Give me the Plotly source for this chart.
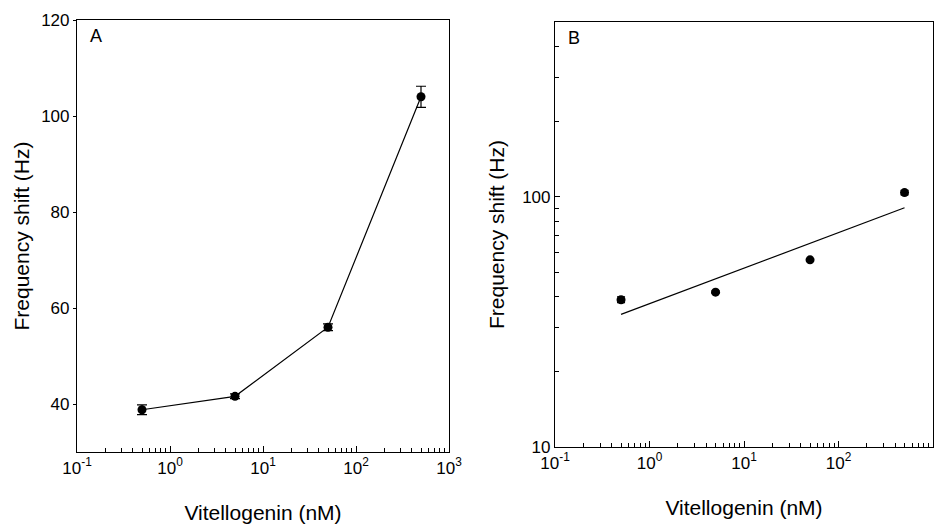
import numpy as np
import plotly.graph_objects as go

# Data
conc_nM = [0.5, 5, 50, 500]
freq_shift_hz = [38.8, 41.6, 56.0, 104.0]
freq_err_hz = [1.0, 0.5, 0.7, 2.2]
fit_conc_nM = [0.5, 500]
fit_shift_hz = [33.9, 90.4]

x_tickvals = [0.1, 1, 10, 100, 1000]
x_ticktext = ["10<sup>-1</sup>", "10<sup>0</sup>", "10<sup>1</sup>", "10<sup>2</sup>", "10<sup>3</sup>"]
x_minorvals = [m * d for d in [0.1, 1, 10, 100] for m in range(2, 10)]
yA_tickvals = [40, 60, 80, 100, 120]
yB_tickvals = [10, 100]
yB_ticktext = ["10", "100"]
yB_minorvals = [20, 30, 40, 50, 60, 70, 80, 90, 200, 300, 400]

FONT = "Liberation Sans, Arial, sans-serif"
W, H = 945, 530

fig = go.Figure()

# Panel A
fig.add_trace(go.Scatter(
    x=conc_nM, y=freq_shift_hz, mode="lines+markers",
    line=dict(color="black", width=1.2),
    marker=dict(color="black", size=9),
    error_y=dict(type="data", array=freq_err_hz, color="black", thickness=1.2, width=5),
    xaxis="x", yaxis="y", showlegend=False))

# Panel B
fig.add_trace(go.Scatter(
    x=conc_nM, y=freq_shift_hz, mode="markers",
    marker=dict(color="black", size=9),
    error_y=dict(type="data", array=freq_err_hz, color="black", thickness=1.2, width=4),
    xaxis="x2", yaxis="y2", showlegend=False))
fig.add_trace(go.Scatter(
    x=fit_conc_nM, y=fit_shift_hz, mode="lines",
    line=dict(color="black", width=1.2),
    xaxis="x2", yaxis="y2", showlegend=False))

def xd(a, b):
    return [a / W, b / W]

def yd(top, bottom):
    return [1 - bottom / H, 1 - top / H]

xminor = dict(tickmode="array", tickvals=x_minorvals, ticks="inside", ticklen=4,
              tickcolor="black", tickwidth=1, showgrid=False)

common_x = dict(
    type="log", range=[-1, 3], tickmode="array", tickvals=x_tickvals, ticktext=x_ticktext,
    ticks="inside", ticklen=6, tickwidth=1, tickcolor="black",
    showline=True, linecolor="black", linewidth=1.2, mirror=True,
    showgrid=False, zeroline=False, automargin=False,
    tickfont=dict(family=FONT, size=17, color="black"),
    minor=xminor,
)
title_font = dict(family=FONT, size=21, color="black")

fig.update_layout(
    width=W, height=H,
    margin=dict(l=0, r=0, t=0, b=0),
    paper_bgcolor="white", plot_bgcolor="white",
    font=dict(family=FONT, color="black"),
    xaxis=dict(common_x, domain=xd(77, 449), anchor="y",
               title=dict(text="Vitellogenin (nM)", font=title_font, standoff=28)),
    yaxis=dict(domain=yd(20, 452), anchor="x", range=[30, 120], tickmode="array",
               tickvals=yA_tickvals,
               ticks="outside", ticklen=3, tickcolor="black",
               showline=True, linecolor="black", linewidth=1.2, mirror=True,
               showgrid=False, zeroline=False, automargin=False,
               tickfont=dict(family=FONT, size=17, color="black"),
               title=dict(text="Frequency shift (Hz)", font=title_font, standoff=5)),
    xaxis2=dict(common_x, domain=xd(555, 933), anchor="y2",
                title=dict(text="Vitellogenin (nM)", font=title_font, standoff=28)),
    yaxis2=dict(domain=yd(22, 447), anchor="x2", type="log", range=[1, np.log10(500)],
                tickmode="array", tickvals=yB_tickvals, ticktext=yB_ticktext,
                ticks="inside", ticklen=5, tickcolor="black",
                showline=True, linecolor="black", linewidth=1.2, mirror=True,
                showgrid=False, zeroline=False, automargin=False,
                tickfont=dict(family=FONT, size=17, color="black"),
                minor=dict(tickmode="array", tickvals=yB_minorvals, ticks="inside", ticklen=4,
                           tickcolor="black", showgrid=False),
                title=dict(text="Frequency shift (Hz)", font=title_font, standoff=11)),
    annotations=[
        dict(text="A", xref="x domain", yref="y domain", x=0.03, y=0.99, xanchor="left", yanchor="top",
             showarrow=False, font=dict(family=FONT, size=18, color="black")),
        dict(text="B", xref="x2 domain", yref="y2 domain", x=0.03, y=0.99, xanchor="left", yanchor="top",
             showarrow=False, font=dict(family=FONT, size=18, color="black")),
    ],
)

fig.write_html("out.html", config={"displayModeBar": False},
               post_script="document.body.style.margin='0px';")
